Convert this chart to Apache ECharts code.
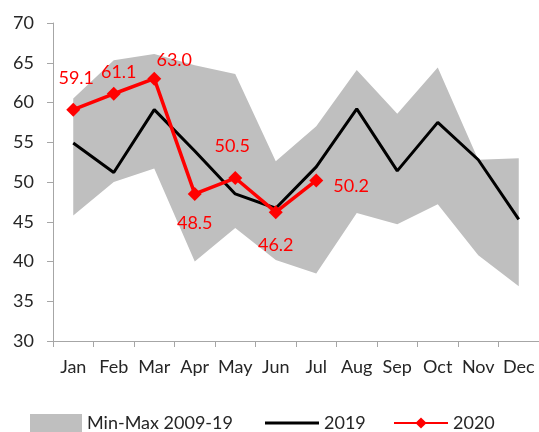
<!DOCTYPE html>
<html><head><meta charset="utf-8">
<script src="https://cdn.jsdelivr.net/npm/echarts@6/dist/echarts.min.js"></script>
<style>html,body{margin:0;padding:0;background:#fff}#c{width:539px;height:432px}</style>
</head><body><div id="c"></div>
<script>
var months = ['Jan','Feb','Mar','Apr','May','Jun','Jul','Aug','Sep','Oct','Nov','Dec'];
var minVals = [45.8, 50.0, 51.7, 40.0, 44.2, 40.2, 38.5, 46.1, 44.7, 47.2, 40.8, 36.9];
var maxVals = [60.5, 65.3, 66.1, 64.7, 63.6, 52.6, 57.0, 64.1, 58.6, 64.4, 52.8, 53.0];
var y2019 = [54.9, 51.2, 59.1, 53.9, 48.5, 46.7, 51.9, 59.2, 51.4, 57.5, 52.8, 45.3];
var y2020 = [59.1, 61.1, 63.0, 48.5, 50.5, 46.2, 50.2];
var labelPos = ['top','top','top','bottom','top','bottom','right'];
var labelOff = [[3,-10],[5,-1],[20,3],[0,8],[-3,-11],[0,12],[5,6]];

var bandDiff = maxVals.map(function(v,i){return +(v - minVals[i]).toFixed(2);});
var font = 'Lato, "Open Sans", sans-serif';
var red = '#ff0000';
var txt = '#262626';
var chart = echarts.init(document.getElementById('c'), null, {renderer:'canvas'});
chart.setOption({
  animation:false,
  textStyle:{fontFamily:font},
  grid:{left:53, top:23, width:487, height:318},
  xAxis:{type:'category', data:months, boundaryGap:true,
    axisLine:{lineStyle:{color:'#a6a6a6', width:1}},
    axisTick:{show:true, length:6, lineStyle:{color:'#a6a6a6'}},
    axisLabel:{color:txt, fontSize:18, margin:17, fontFamily:font, interval:0}},
  yAxis:{type:'value', min:30, max:70, interval:5,
    axisLine:{show:true, lineStyle:{color:'#a6a6a6'}},
    axisTick:{show:true, length:6, lineStyle:{color:'#a6a6a6'}},
    splitLine:{show:false},
    axisLabel:{color:txt, fontSize:18, margin:19, fontFamily:font}},
  legend:[
    {data:[{name:'Min-Max 2009-19', icon:'rect'}], left:25, top:409, itemWidth:52, itemHeight:18, itemGap:6,
      textStyle:{fontSize:18, color:txt, fontFamily:font}},
    {data:[{name:'2019', icon:'rect', itemStyle:{color:'#000'}}], left:260, top:409, itemWidth:54, itemHeight:3,
      textStyle:{fontSize:18, color:txt, fontFamily:font}},
    {data:[{name:'2020'}], left:388, top:409, itemWidth:54, itemHeight:14,
      textStyle:{fontSize:18, color:txt, fontFamily:font}}
  ],
  series:[
    {name:'minBase', type:'line', stack:'band', data:minVals, symbol:'none',
      lineStyle:{width:0, opacity:0}, areaStyle:{opacity:0}, silent:true, z:1},
    {name:'Min-Max 2009-19', type:'line', stack:'band', data:bandDiff, symbol:'none',
      itemStyle:{color:'#bfbfbf'},
      lineStyle:{width:0, opacity:0}, areaStyle:{color:'#bfbfbf', opacity:1}, z:1},
    {name:'2019', type:'line', data:y2019, symbol:'none', itemStyle:{color:'#000'},
      lineStyle:{color:'#000', width:3}, z:3},
    {name:'2020', type:'line', symbol:'diamond', symbolSize:14, itemStyle:{color:red},
      lineStyle:{color:red, width:3.5}, z:4,
      data:y2020.map(function(v,i){return {value:v, label:{show:true, position:labelPos[i], offset:labelOff[i],
        formatter:function(p){return p.value.toFixed(1);}, color:red, fontSize:18, fontFamily:font}};})}
  ]
});
</script></body></html>
